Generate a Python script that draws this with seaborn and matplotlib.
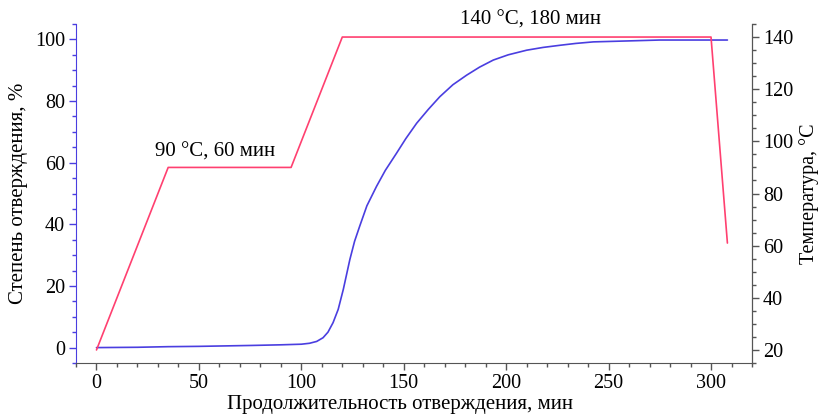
import numpy as np
import pandas as pd
import matplotlib
matplotlib.use('Agg')
import matplotlib.pyplot as plt
import seaborn as sns
from matplotlib.ticker import MultipleLocator

# temperature program (right axis)
temp_time = [0, 35, 95, 120, 300, 308]
temp_vals = [20, 90, 90, 140, 140, 61]

# degree of cure (left axis)
cure_time = [0, 20, 35, 50, 76, 90, 100, 104, 107.5, 110.6, 113, 115.5, 118, 120.5,
             123.7, 126, 128.5, 132, 136.7, 141, 146.5, 151, 156.3, 162, 167.6,
             174, 180.7, 187, 193.7, 201, 210, 218, 226.3, 234, 242.6, 259, 275, 290, 308]
cure_vals = [0, 0.1, 0.3, 0.4, 0.7, 0.9, 1.1, 1.4, 2.0, 3.2, 5.0, 8.1, 12.4, 18.9,
             28.6, 34.5, 39.4, 46.0, 52.3, 57.5, 63.1, 67.8, 72.8, 77.3, 81.4,
             85.3, 88.4, 91.0, 93.3, 95.0, 96.5, 97.4, 98.1, 98.7, 99.2, 99.5, 99.8, 99.8, 99.8]

red = '#ff4070'
blue = '#4a3ee0'

sns.set_style('ticks')
plt.rcParams['font.family'] = ['Liberation Serif', 'DejaVu Serif']
plt.rcParams['text.color'] = 'black'
plt.rcParams['axes.labelcolor'] = 'black'

fig = plt.figure(figsize=(8.18, 4.16), dpi=100)
ax = fig.add_axes([0.0929, 0.1274, 0.8264, 0.8149])
ax2 = ax.twinx()

df_cure = pd.DataFrame({'t': cure_time, 'cure': cure_vals})
df_temp = pd.DataFrame({'t': temp_time, 'temp': temp_vals})

sns.lineplot(data=df_cure, x='t', y='cure', ax=ax, color=blue, lw=1.2, sort=False)
sns.lineplot(data=df_temp, x='t', y='temp', ax=ax2, color=red, lw=1.2, sort=False)

ax.set_xlim(-10, 320)
ax.set_ylim(-5, 105)
ax2.set_ylim(15, 145)

ax.xaxis.set_major_locator(MultipleLocator(50))
ax.xaxis.set_minor_locator(MultipleLocator(10))
ax.yaxis.set_major_locator(MultipleLocator(20))
ax.yaxis.set_minor_locator(MultipleLocator(5))
ax2.yaxis.set_major_locator(MultipleLocator(20))
ax2.yaxis.set_minor_locator(MultipleLocator(5))

for a in (ax, ax2):
    a.spines['top'].set_visible(False)
    a.tick_params(which='major', length=5, width=1, labelsize=14.5, direction='out',
                  labelcolor='black', pad=3)
    a.tick_params(which='minor', length=3, width=1, direction='out')

ax.spines['left'].set_color(blue)
ax.spines['bottom'].set_color('#555555')
ax2.spines['right'].set_color('#555555')
ax2.spines['left'].set_visible(False)
ax2.spines['bottom'].set_visible(False)
ax.tick_params(axis='y', which='both', color=blue)
ax.tick_params(axis='x', which='both', color='#555555')
ax2.tick_params(axis='y', which='both', color='#555555')

ax.set_xlabel('Продолжительность отверждения, мин', fontsize=15, labelpad=1, x=0.479)
ax.set_ylabel('Степень отверждения, %', fontsize=15, labelpad=5)
ax2.set_ylabel('Температура, °C', fontsize=14.5, labelpad=4)

ax2.text(58, 96, '90 °C, 60 мин', fontsize=15, ha='center', va='center')
ax2.text(212, 146.5, '140 °C, 180 мин', fontsize=15, ha='center', va='center',
         clip_on=False)

fig.savefig('out.png', dpi=100)
